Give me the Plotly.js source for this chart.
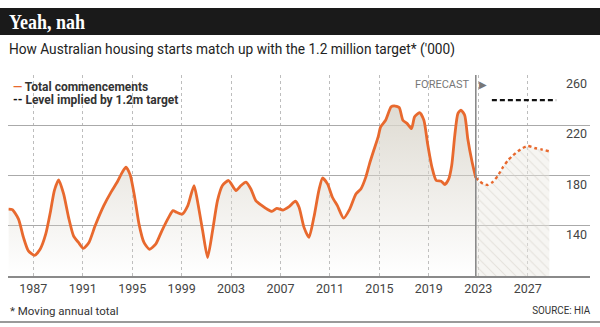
<!DOCTYPE html>
<html>
<head>
<meta charset="utf-8">
<script src="https://cdn.plot.ly/plotly-3.0.1.min.js"></script>
<style>html,body{margin:0;padding:0;background:#fff;}#chart{width:600px;height:327px;}</style>
</head>
<body>
<div id="chart"></div>
<script>
// Historical moving annual total of housing commencements ('000)
const histYears = [1985.0,1985.3,1985.8,1986.2,1986.6,1987.1,1987.55,1988.0,1988.4,1988.7,1989.05,1989.45,1989.85,1990.25,1990.65,1991.05,1991.5,1992.0,1992.7,1993.3,1993.8,1994.2,1994.5,1994.85,1995.2,1995.55,1995.95,1996.4,1996.9,1997.4,1997.95,1998.3,1998.6,1999.05,1999.5,2000.0,2000.25,2000.7,2001.1,2001.5,2001.9,2002.3,2002.8,2003.4,2003.8,2004.2,2004.6,2005.0,2005.5,2005.9,2006.3,2006.7,2007.2,2007.7,2008.2,2008.5,2008.9,2009.3,2009.7,2010.1,2010.4,2010.8,2011.2,2011.6,2012.1,2012.6,2013.1,2013.5,2013.9,2014.2,2014.5,2014.9,2015.1,2015.5,2015.95,2016.2,2016.6,2016.9,2017.25,2017.6,2017.85,2018.25,2018.6,2018.9,2019.25,2019.6,2020.0,2020.3,2020.6,2020.85,2021.1,2021.35,2021.6,2021.9,2022.15,2022.5,2022.8];
const histValues = [153.3,152.8,145.3,130.7,120,116.5,121.3,133.3,152,168,176.5,165.3,146.7,132,126.7,122,126.7,140,156,167,175,182.7,186.7,180,162.7,141.3,126.7,121.3,125.3,136,146.7,152,150.7,149.3,156,172,161.3,136,114.7,136,160,172,176,168,172,174.7,169.3,160,156,153.3,151.5,153.9,152.5,155.2,159.5,154.7,138.7,130.7,146.7,168,178,173.3,162.7,156,146,153.3,165.3,169.3,178.7,189.3,198.7,210.7,218.7,224,234.7,235.5,234.1,224,221.3,217.3,226.7,230.1,224,205.3,186.7,176,175.5,172.8,177,188,212,229.3,232,228,209.3,190.7,178];
// Forecast
const fcYears = [2022.8,2023.1,2023.4,2023.8,2024.2,2024.6,2025.0,2025.4,2025.8,2026.2,2026.6,2027.0,2027.55,2028.1,2028.75];
const fcValues = [178,175.5,173.3,172.5,175.2,180,186.7,192,196,199.2,201.9,203.5,201.9,200.8,199.2];
// Level implied by the 1.2m target
const targetYears = [2024.1, 2029.3];
const targetValues = [240, 240];
// Axis ticks
const xTicks = [1987,1991,1995,1999,2003,2007,2011,2015,2019,2023,2027];
const yTicks = [140,180,220,260];
const forecastStart = 2022.8;

const W = 600, H = 327, ML = 8, MR = 10, MT = 75, MB = 51;
const PW = W - ML - MR, PH = H - MT - MB;
const px = x => (x - ML) / PW;
const py = y => (H - MB - y) / PH;

const orange = '#e8692e';

const traces = [
  {
    x: fcYears, y: fcValues, type: 'scatter', mode: 'lines', name: 'Forecast',
    line: {color: orange, width: 2.4, dash: 'dot', shape: 'spline', smoothing: 0.6},
    fill: 'tozeroy',
    fillpattern: {shape: '\\', bgcolor: 'rgba(236,233,226,0.45)', fgcolor: 'rgba(205,201,192,0.45)', size: 7, solidity: 0.15},
    showlegend: false, hoverinfo: 'skip'
  },
  {
    x: histYears, y: histValues, type: 'scatter', mode: 'lines', name: 'Total commencements',
    line: {color: orange, width: 2.8, shape: 'spline', smoothing: 0.6},
    fill: 'tozeroy',
    fillgradient: {type: 'vertical', start: 100, stop: 240,
      colorscale: [[0, 'rgba(218,214,204,0)'], [1, 'rgba(218,214,204,0.9)']]},
    showlegend: false
  },
  {
    x: targetYears, y: targetValues, type: 'scatter', mode: 'lines', name: 'Level implied by 1.2m target',
    line: {color: '#111', width: 2.2, dash: '5px,3px'},
    showlegend: false
  }
];

const font = 'Roboto, "Liberation Sans", sans-serif';

const layout = {
  width: W, height: H,
  margin: {l: ML, r: MR, t: MT, b: MB, pad: 0},
  paper_bgcolor: '#fff', plot_bgcolor: '#fff',
  showlegend: false,
  xaxis: {
    range: [1984.95, 2032.04], tickvals: xTicks, ticktext: xTicks.map(String),
    showgrid: true, gridcolor: '#bdbdbd', griddash: 'dot', gridwidth: 1,
    showline: true, linecolor: '#8a8a8a', linewidth: 2,
    ticks: '', zeroline: false, fixedrange: true,
    tickfont: {family: font, size: 12.5, color: '#444'}
  },
  yaxis: {
    range: [100, 260], tickvals: yTicks, ticktext: yTicks.map(String),
    side: 'right', ticklabelposition: 'inside bottom',
    showgrid: true, gridcolor: '#aaaaaa', gridwidth: 1.4,
    showline: false, zeroline: false, ticks: '', fixedrange: true,
    tickfont: {family: font, size: 12.5, color: '#444'}
  },
  shapes: [
    {type: 'rect', xref: 'paper', yref: 'paper', x0: px(0), x1: px(600), y0: py(35), y1: py(8),
     fillcolor: '#1a1a1a', line: {width: 0}, layer: 'above'},
    {type: 'line', xref: 'x', yref: 'y', x0: forecastStart, x1: forecastStart, y0: 100, y1: 260,
     line: {color: '#8a8a8a', width: 1.6}},
    {type: 'line', xref: 'paper', yref: 'paper', x0: px(0), x1: px(600), y0: py(322), y1: py(322),
     line: {color: '#9a9a9a', width: 2}}
  ],
  annotations: [
    {xref: 'paper', yref: 'paper', x: px(9), y: py(22), xanchor: 'left', yanchor: 'middle', showarrow: false,
     text: '<b>Yeah, nah</b>', font: {family: '"Liberation Serif", "DejaVu Serif", serif', size: 21.5, color: '#fff'}},
    {xref: 'paper', yref: 'paper', x: px(8), y: py(48.5), xanchor: 'left', yanchor: 'middle', showarrow: false,
     text: "How Australian housing starts match up with the 1.2 million target* ('000)",
     font: {family: font, size: 15.5, color: '#222'}},
    {xref: 'paper', yref: 'paper', x: px(11), y: py(86.5), xanchor: 'left', yanchor: 'middle', showarrow: false,
     text: '<b><span style="color:' + orange + '">—</span> Total commencements</b>',
     font: {family: font, size: 12, color: '#333'}},
    {xref: 'paper', yref: 'paper', x: px(11), y: py(100), xanchor: 'left', yanchor: 'middle', showarrow: false,
     text: '<b><span style="color:#111">--</span> Level implied by 1.2m target</b>',
     font: {family: font, size: 12, color: '#333'}},
    {xref: 'paper', yref: 'paper', x: px(472), y: py(84), xanchor: 'right', yanchor: 'middle', showarrow: false,
     text: 'FORECAST', font: {family: font, size: 11, color: '#777'}},
    {xref: 'paper', yref: 'paper', x: px(483), y: py(84), xanchor: 'center', yanchor: 'middle', showarrow: false,
     text: '▶', font: {family: '"DejaVu Sans", sans-serif', size: 10, color: '#777'}},
    {xref: 'paper', yref: 'paper', x: px(8), y: py(311), xanchor: 'left', yanchor: 'middle', showarrow: false,
     text: '* Moving annual total', font: {family: font, size: 11.5, color: '#333'}},
    {xref: 'paper', yref: 'paper', x: px(591), y: py(310), xanchor: 'right', yanchor: 'middle', showarrow: false,
     text: 'SOURCE: HIA', font: {family: font, size: 11, color: '#333'}}
  ]
};

Plotly.newPlot('chart', traces, layout, {staticPlot: true, displayModeBar: false}).then(function (gd) {
  // condense some texts to match the narrow newspaper faces
  const fits = [
    {start: 'Yeah', len: 76, left: 9},
    {start: 'How Australian', len: 446, left: 9},
    {start: 'SOURCE', len: 58, right: 591}
  ];
  gd.querySelectorAll('text.annotation-text').forEach(function (t) {
    fits.forEach(function (f) {
      if (t.textContent.indexOf(f.start) === 0) {
        t.setAttribute('textLength', f.len);
        t.setAttribute('lengthAdjust', 'spacingAndGlyphs');
        const bb = t.getBoundingClientRect();
        const dx = f.left !== undefined ? f.left - bb.left : f.right - bb.right;
        const cur = t.getAttribute('transform') || '';
        t.setAttribute('transform', cur + ' translate(' + dx + ',0)');
      }
    });
  });
});
</script>
</body>
</html>
